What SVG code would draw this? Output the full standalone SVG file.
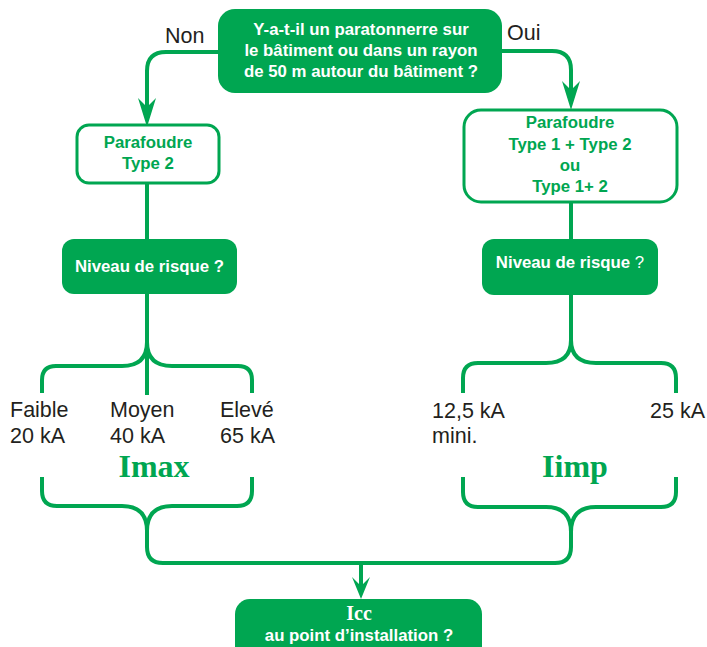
<svg xmlns="http://www.w3.org/2000/svg" width="707" height="647" viewBox="0 0 707 647">
<defs>
<style>
.conn{fill:none;stroke:#00a651;stroke-width:4;stroke-linecap:butt;stroke-linejoin:round}
.arrow{fill:#00a651;stroke:none}
.fillbox{fill:#00a651;stroke:none}
.outbox{fill:#ffffff;stroke:#00a651;stroke-width:3}
.wt{font-family:"Liberation Sans",Arial,sans-serif;font-weight:bold;font-size:16.8px;fill:#ffffff;text-anchor:middle}
.gt{font-family:"Liberation Sans",Arial,sans-serif;font-weight:bold;font-size:16.8px;fill:#00a651;text-anchor:middle}
.lbl{font-family:"Liberation Sans",Arial,sans-serif;font-size:21.5px;fill:#231f20}
.big{font-family:"Liberation Serif","Times New Roman",serif;font-weight:bold;font-size:32px;fill:#00a651;text-anchor:middle}
.serif{font-family:"Liberation Serif","Times New Roman",serif;font-weight:bold;font-size:20px;fill:#ffffff}
</style>
</defs>
<rect width="707" height="647" fill="#ffffff"/>
<g id="connectors">
<path class="conn" d="M218,52 H166 Q147,52 147,71 V108"/>
<path class="arrow" d="M147,127 L138,98 L147,107 L156,98 Z"/>
<path class="conn" d="M502,51 H552 Q571,51 571,70 V92"/>
<path class="arrow" d="M571,110 L562,81 L571,90 L580,81 Z"/>
<path class="conn" d="M147,183 V239"/>
<path class="conn" d="M571,202 V239"/>
<path class="conn" d="M147,294 V395"/>
<path class="conn" d="M42,393 V380 Q42,366 56,366 H122 Q147,366 147,342 Q147,366 172,366 H238 Q252,366 252,380 V393"/>
<path class="conn" d="M571,295 V342"/>
<path class="conn" d="M463,393 V378 Q463,363 478,363 H546 Q571,363 571,340 Q571,363 596,363 H661 Q676,363 676,378 V393"/>
<path class="conn" d="M42,477 V491 Q42,506 57,506 H122 Q147,506 147,531 Q147,506 172,506 H237 Q252,506 252,491 V477"/>
<path class="conn" d="M463,477 V492 Q463,507 478,507 H546 Q571,507 571,532 Q571,507 596,507 H661 Q676,507 676,492 V477"/>
<path class="conn" d="M147,530 V547 Q147,563 163,563 H555 Q571,563 571,547 V530"/>
<path class="conn" d="M361,563 V586"/>
<path class="arrow" d="M361,599 L352,577 L361,586 L370,577 Z"/>
</g>
<g id="question">
<rect class="fillbox" x="218" y="9" width="284" height="84" rx="17"/>
<text class="wt" x="361" y="35">Y-a-t-il un paratonnerre sur</text>
<text class="wt" x="361" y="56">le bâtiment ou dans un rayon</text>
<text class="wt" x="361" y="77">de 50 m autour du bâtiment ?</text>
</g>
<g id="label-non"><text class="lbl" x="165" y="43">Non</text></g>
<g id="label-oui"><text class="lbl" x="507" y="40">Oui</text></g>
<g id="parafoudre-type2">
<rect class="outbox" x="77" y="125" width="142" height="58" rx="12"/>
<text class="gt" x="148" y="148">Parafoudre</text>
<text class="gt" x="148" y="169">Type 2</text>
</g>
<g id="parafoudre-type1">
<rect class="outbox" x="464" y="110" width="213" height="92" rx="17"/>
<text class="gt" x="570" y="128">Parafoudre</text>
<text class="gt" x="570" y="150">Type 1 + Type 2</text>
<text class="gt" x="570" y="171">ou</text>
<text class="gt" x="570" y="192">Type 1+ 2</text>
</g>
<g id="risque-gauche">
<rect class="fillbox" x="62" y="239" width="175" height="55" rx="12"/>
<text class="wt" x="149.5" y="272">Niveau de risque ?</text>
</g>
<g id="risque-droite">
<rect class="fillbox" x="482" y="239" width="176" height="56" rx="12"/>
<text class="wt" x="570" y="268">Niveau de risque<tspan font-weight="normal"> ?</tspan></text>
</g>
<g id="imax-values">
<text class="lbl" x="10" y="417">Faible</text>
<text class="lbl" x="10" y="443">20 kA</text>
<text class="lbl" x="110" y="417">Moyen</text>
<text class="lbl" x="110" y="443">40 kA</text>
<text class="lbl" x="220" y="417">Elevé</text>
<text class="lbl" x="220" y="443">65 kA</text>
<text class="big" x="154" y="477">Imax</text>
</g>
<g id="iimp-values">
<text class="lbl" x="432" y="418">12,5 kA</text>
<text class="lbl" x="432" y="443">mini.</text>
<text class="lbl" x="705" y="418" text-anchor="end">25 kA</text>
<text class="big" x="575" y="477">Iimp</text>
</g>
<g id="icc">
<rect class="fillbox" x="235" y="599" width="247" height="70" rx="15"/>
<text class="serif" x="359" y="620" text-anchor="middle">Icc</text>
<text class="wt" x="359" y="641">au point d’installation ?</text>
</g>
</svg>
